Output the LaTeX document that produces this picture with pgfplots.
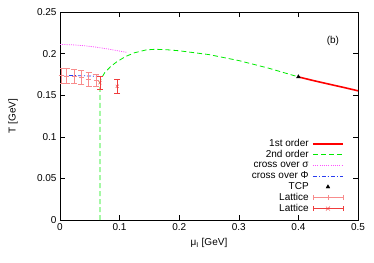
\documentclass[border=0pt]{standalone}
\usepackage{pgfplots}
\pgfplotsset{compat=1.18}
\usepackage{fontspec}
\setmainfont{Liberation Sans}
\definecolor{gpgreen}{RGB}{0,235,0}
\definecolor{gpmag}{RGB}{255,80,255}
\definecolor{gpblue}{RGB}{40,60,240}
\definecolor{gppink}{RGB}{248,140,140}
\definecolor{gpred}{RGB}{240,60,60}
\begin{document}
\begin{tikzpicture}
\begin{axis}[
  at={(0pt,0pt)}, anchor=south west,
  scale only axis, width=298pt, height=208pt,
  xmin=0, xmax=0.5, ymin=0, ymax=0.25,
  xtick={0,0.1,...,0.5}, ytick={0,0.05,...,0.25},
  xticklabels={0,0.1,0.2,0.3,0.4,0.5},
  yticklabels={0,0.05,0.1,0.15,0.2,0.25},
  tick align=inside, major tick length=5pt,
  every tick/.style={black, line width=0.5pt},
  axis line style={line width=0.5pt},
  /pgf/number format/assume math mode=true,
  ticklabel style={font=\fontsize{10}{12}\selectfont},
  xlabel={μ\textsubscript{I} [GeV]},
  ylabel={T [GeV]},
  xlabel style={at={(axis description cs:0.5,-0.112)}, anchor=center},
  ylabel style={at={(axis description cs:-0.158,0.5)}, anchor=center},
  legend cell align=right,
  legend plot pos=right,
  legend style={draw=none, fill=none, at={(rel axis cs:0.963,0.02)}, anchor=south east,
    font=\fontsize{10}{10}\selectfont, row sep=0.6pt, column sep=3pt,
    nodes={inner sep=0.5pt, text height=7.2pt, text depth=2pt}},
  legend image code/.code={\draw[mark repeat=2,mark phase=2,#1] plot coordinates {(0pt,0pt)(15pt,0pt)(30pt,0pt)};},
]
\addplot[red, line width=1.6pt] coordinates {
(0.4,0.172)(0.425,0.1676)(0.45,0.1635)(0.475,0.1595)(0.5,0.1553)};
\addlegendentry{1st order}
\addplot[gpgreen, line width=0.8pt, dash pattern=on 5pt off 3pt] coordinates {
(0.067,0)(0.067,0.166)(0.070,0.171)(0.075,0.177)(0.085,0.1845)(0.095,0.190)(0.11,0.1965)
(0.125,0.201)(0.145,0.2045)(0.16,0.2052)(0.18,0.2046)(0.2,0.2034)(0.25,0.1988)
(0.3,0.1916)(0.35,0.1825)(0.4,0.172)};
\addlegendentry{2nd order}
\addplot[gpmag, line width=0.8pt, dash pattern=on 1pt off 1.2pt] coordinates {
(0,0.211)(0.02,0.2106)(0.04,0.2095)(0.06,0.2078)(0.08,0.2056)(0.1,0.203)(0.112,0.2015)};
\addlegendentry{cross over σ}
\addplot[gpblue, line width=0.8pt, dash pattern=on 4pt off 2pt on 1pt off 2pt] coordinates {
(0,0.1737)(0.03,0.1735)(0.05,0.1731)(0.068,0.1725)};
\addlegendentry{cross over Φ}
\addplot[only marks, mark=triangle*, mark size=2.2pt, black] coordinates {(0.4,0.172)};
\addlegendentry{TCP}
\addplot[gppink, mark=+, mark size=2.5pt, only marks,
  legend image code/.code={%
  \draw[gppink, line width=0.7pt] (0pt,0pt)--(30pt,0pt) (0pt,-2.5pt)--(0pt,2.5pt) (30pt,-2.5pt)--(30pt,2.5pt);
  \draw[gppink, line width=0.7pt] (15pt,-2.5pt)--(15pt,2.5pt);},
  error bars/.cd, y dir=both, y explicit, error bar style={draw=gppink, line width=0.6pt},
  error mark options={rotate=90, mark size=3pt, draw=gppink}]
  coordinates {
  (0.002,0.1735) +- (0,0.0088)
  (0.011,0.1733) +- (0,0.0088)
  (0.0235,0.1725) +- (0,0.0085)
  (0.036,0.1715) +- (0,0.0085)
  (0.048,0.1695) +- (0,0.0085)
  (0.061,0.168) +- (0,0.0075)
};
\addlegendentry{Lattice}
\addplot[gpred, mark=x, mark size=2.2pt, only marks,
  legend image code/.code={%
  \draw[gpred] (0pt,0pt)--(30pt,0pt) (0pt,-2.5pt)--(0pt,2.5pt) (30pt,-2.5pt)--(30pt,2.5pt);
  \draw[gpred] (13pt,-2pt)--(17pt,2pt) (13pt,2pt)--(17pt,-2pt);}]
  coordinates {(0.067,0.165)(0.096,0.1607)};
\addlegendentry{Lattice}
\addplot[gpred, line width=0.5pt, mark=-, mark size=3pt, mark options={solid, gpred}, forget plot]
  coordinates {(0.067,0.1575)(0.067,0.1725)};
\addplot[gpred, line width=0.5pt, mark=-, mark size=3pt, mark options={solid, gpred}, forget plot]
  coordinates {(0.096,0.1524)(0.096,0.169)};
\node at (axis cs:0.458,0.215) {\fontsize{10}{12}\selectfont (b)};
\end{axis}
\pgfresetboundingbox
\path[use as bounding box] (-60pt,-42pt) rectangle (314pt,220pt);
\end{tikzpicture}
\end{document}
